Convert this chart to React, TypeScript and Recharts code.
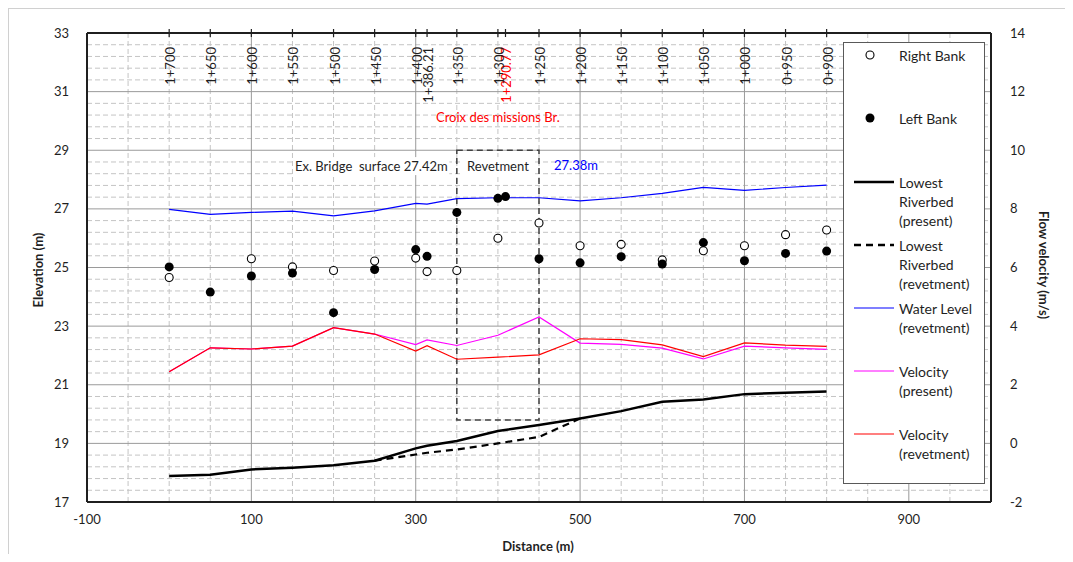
import React from 'react';
import {
  ComposedChart,
  Line,
  Scatter,
  XAxis,
  YAxis,
  CartesianGrid,
  ReferenceArea,
  ReferenceDot,
  Legend,
  Label,
} from 'recharts';

// distance along the river (m)
const distance = [0, 50, 100, 150, 200, 250, 300, 313.79, 350, 400, 409.23, 450, 500, 550, 600, 650, 700, 750, 800];

const rightBank = [24.66, null, 25.3, 25.02, 24.9, 25.22, 25.32, 24.86, 24.9, 26.0, null, 26.52, 25.74, 25.79, 25.26, 25.57, 25.74, 26.12, 26.28];
const leftBank = [25.02, 24.16, 24.71, 24.81, 23.46, 24.93, 25.61, 25.38, 26.88, 27.36, 27.42, 25.3, 25.16, 25.37, 25.12, 25.85, 25.23, 25.48, 25.56];
const bedPresent = [17.89, 17.93, 18.11, 18.17, 18.25, 18.41, 18.83, 18.92, 19.08, 19.42, null, 19.63, 19.85, 20.1, 20.42, 20.5, 20.68, 20.73, 20.77];
const bedRevetment = [null, null, null, null, null, 18.41, 18.62, 18.68, 18.79, 19.0, null, 19.22, 19.85, null, null, null, null, null, null];
const waterLevel = [26.98, 26.81, 26.88, 26.92, 26.76, 26.93, 27.19, 27.16, 27.35, 27.38, null, 27.38, 27.27, 27.38, 27.53, 27.73, 27.63, 27.73, 27.81];
const velPresent = [2.44, 3.26, 3.22, 3.32, 3.95, 3.73, 3.37, 3.53, 3.34, 3.69, null, 4.31, 3.42, 3.38, 3.25, 2.88, 3.32, 3.26, 3.21];
const velRevetment = [2.44, 3.26, 3.22, 3.32, 3.95, 3.73, 3.15, 3.33, 2.87, 2.94, null, 3.02, 3.57, 3.54, 3.36, 2.96, 3.43, 3.35, 3.31];

// station chainage labels on the top axis
const stationTicks = [0, 50, 100, 150, 200, 250, 300, 313.79, 350, 409.23, 400, 450, 500, 550, 600, 650, 700, 750, 800];
const stationLabels = ['1+700', '1+650', '1+600', '1+550', '1+500', '1+450', '1+400', '1+386.21', '1+350', '1+290.77', '1+300', '1+250', '1+200', '1+150', '1+100', '1+050', '1+000', '0+950', '0+900'];

const distanceTicks = [-100, 100, 300, 500, 700, 900];
const elevationTicks = [17, 19, 21, 23, 25, 27, 29, 31, 33];
const velocityTicks = [-2, 0, 2, 4, 6, 8, 10, 12, 14];

const toPoints = (ys: (number | null)[]) =>
  distance.map((x, i) => ({ x, y: ys[i] })).filter((p) => p.y !== null);

const minorX: number[] = [];
for (let v = -50; v < 1000; v += 50) if (!distanceTicks.includes(v)) minorX.push(v);
const minorY: number[] = [];
for (let k = 1; k < 40; k++) if (k % 5 !== 0) minorY.push(17 + k * 0.4);

const FONT = 'Lato, "Open Sans", sans-serif';
const INK = '#1f1f1f';
const PLOT_TOP = 24;
const tickStyle = { fontSize: 13, fill: INK, fontFamily: FONT };

function StationTick(props: any) {
  const { x, payload } = props;
  const i = stationTicks.indexOf(payload.value);
  const ty = PLOT_TOP + 14;
  return (
    <g>
      <line x1={x} x2={x} y1={PLOT_TOP - 4} y2={PLOT_TOP + 4} stroke={INK} strokeWidth={1.2} />
      <text
        x={x + 1}
        y={ty}
        transform={`rotate(-90 ${x + 1} ${ty})`}
        textAnchor="end"
        dominantBaseline="central"
        fontSize={13}
        fontFamily={FONT}
        fill={payload.value === 409.23 ? '#ff0000' : INK}
      >
        {stationLabels[i]}
      </text>
    </g>
  );
}

const openDot = (p: any) => <circle cx={p.cx} cy={p.cy} r={4} fill="#fff" stroke="#000" strokeWidth={1.1} />;
const fullDot = (p: any) => <circle cx={p.cx} cy={p.cy} r={4.5} fill="#000" />;

const note = (text: string, color: string, boxW?: number) => (p: any) => (
  <g>
    {boxW ? <rect x={p.cx - boxW / 2} y={p.cy - 9} width={boxW} height={18} fill="#fff" /> : null}
    <text
      x={p.cx}
      y={p.cy}
      textAnchor="middle"
      dominantBaseline="central"
      fontSize={13}
      fontFamily={FONT}
      fill={color}
      style={{ whiteSpace: 'pre' }}
    >
      {text}
    </text>
  </g>
);

const legendItems = [
  { kind: 'open', lines: ['Right Bank'], y: 12 },
  { kind: 'full', lines: ['Left Bank'], y: 75 },
  { kind: 'line', color: '#000', width: 2.5, dash: undefined, lines: ['Lowest', 'Riverbed', '(present)'], y: 139 },
  { kind: 'line', color: '#000', width: 2.5, dash: '7 5', lines: ['Lowest', 'Riverbed', '(revetment)'], y: 202 },
  { kind: 'line', color: '#0000ff', width: 1.2, dash: undefined, lines: ['Water Level', '(revetment)'], y: 265 },
  { kind: 'line', color: '#ff00ff', width: 1.2, dash: undefined, lines: ['Velocity', '(present)'], y: 328 },
  { kind: 'line', color: '#ff0000', width: 1.2, dash: undefined, lines: ['Velocity', '(revetment)'], y: 391 },
];

function LegendBox() {
  return (
    <div style={{ width: 142, height: 442, border: '1px solid #595959', background: '#fff', boxSizing: 'border-box' }}>
      <svg width={140} height={440}>
        {legendItems.map((it, i) => (
          <g key={i}>
            {it.kind === 'open' && <circle cx={26} cy={it.y} r={4} fill="#fff" stroke="#000" strokeWidth={1.1} />}
            {it.kind === 'full' && <circle cx={26} cy={it.y} r={4.5} fill="#000" />}
            {it.kind === 'line' && (
              <line x1={10} x2={50} y1={it.y} y2={it.y} stroke={it.color} strokeWidth={it.width} strokeDasharray={it.dash} />
            )}
            {it.lines.map((t, j) => (
              <text key={j} x={55} y={it.y + j * 19} dominantBaseline="central" fontSize={14} fontFamily={FONT} fill={INK}>
                {t}
              </text>
            ))}
          </g>
        ))}
      </svg>
    </div>
  );
}

const axisTitle = (text: string, x: number, y: number, angle: number) => () => (
  <text
    x={x}
    y={y}
    transform={angle ? `rotate(${angle} ${x} ${y})` : undefined}
    textAnchor="middle"
    dominantBaseline="central"
    fontSize={13}
    fontWeight="bold"
    fontFamily={FONT}
    fill={INK}
  >
    {text}
  </text>
);

export default function App() {
  return (
    <div
      style={{
        borderLeft: '1px solid #d0d0d0',
        borderTop: '1px solid #d0d0d0',
        width: 1057,
        height: 554,
        boxSizing: 'border-box',
        marginBottom: -8,
        overflow: 'hidden',
      }}
    >
      <ComposedChart width={1056} height={544} margin={{ top: 23, right: 30, bottom: 26, left: 28 }}>
        <CartesianGrid
          xAxisId="bottom"
          yAxisId="left"
          verticalValues={minorX}
          horizontalValues={minorY}
          stroke="#c4c4c4"
          strokeDasharray="5 3"
        />
        <CartesianGrid
          xAxisId="bottom"
          yAxisId="left"
          verticalValues={[100, 300, 500, 700, 900]}
          horizontalValues={[19, 21, 23, 25, 27, 29, 31]}
          stroke="#9a9a9a"
        />
        <XAxis
          xAxisId="bottom"
          dataKey="x"
          type="number"
          domain={[-100, 1000]}
          allowDataOverflow
          ticks={distanceTicks}
          interval={0}
          height={25}
          tick={tickStyle}
          tickLine={false}
          tickSize={6}
          tickMargin={7}
          axisLine={{ stroke: INK, strokeWidth: 2 }}
        >
          <Label content={axisTitle('Distance (m)', 529, 537, 0)} />
        </XAxis>
        <XAxis
          xAxisId="top"
          orientation="top"
          dataKey="x"
          type="number"
          domain={[-100, 1000]}
          allowDataOverflow
          ticks={stationTicks}
          interval={0}
          height={1}
          tick={<StationTick />}
          tickLine={false}
          axisLine={{ stroke: INK, strokeWidth: 2 }}
        />
        <YAxis
          yAxisId="left"
          type="number"
          domain={[17, 33]}
          allowDataOverflow
          ticks={elevationTicks}
          interval={0}
          width={50}
          tick={tickStyle}
          tickLine={false}
          tickSize={6}
          tickMargin={12}
          axisLine={{ stroke: INK, strokeWidth: 2 }}
        >
          <Label content={axisTitle('Elevation (m)', 29, 261, -90)} />
        </YAxis>
        <YAxis
          yAxisId="right"
          orientation="right"
          type="number"
          domain={[-2, 14]}
          allowDataOverflow
          ticks={velocityTicks}
          interval={0}
          width={44}
          tick={{ ...tickStyle, textAnchor: 'start' }}
          tickLine={false}
          tickSize={6}
          tickMargin={13}
          axisLine={{ stroke: INK, strokeWidth: 2 }}
        >
          <Label content={axisTitle('Flow velocity (m/s)', 1035, 256, 90)} />
        </YAxis>

        <ReferenceArea
          xAxisId="bottom"
          yAxisId="left"
          x1={350}
          x2={450}
          y1={19.8}
          y2={29}
          fill="none"
          fillOpacity={0}
          stroke="#404040"
          strokeWidth={1.5}
          strokeDasharray="6 4"
          ifOverflow="visible"
        />
        <ReferenceDot xAxisId="bottom" yAxisId="left" x={400} y={30.13} r={0} shape={note('Croix des missions Br.', '#ff0000')} />
        <ReferenceDot xAxisId="bottom" yAxisId="left" x={246} y={28.46} r={0} shape={note('Ex. Bridge  surface 27.42m', INK, 156)} />
        <ReferenceDot xAxisId="bottom" yAxisId="left" x={400} y={28.46} r={0} shape={note('Revetment', INK, 74)} />
        <ReferenceDot xAxisId="bottom" yAxisId="left" x={495} y={28.5} r={0} shape={note('27.38m', '#0000ff')} />

        <Line xAxisId="bottom" yAxisId="right" data={toPoints(velPresent)} dataKey="y" name="Velocity (present)" stroke="#ff00ff" strokeWidth={1.2} dot={false} isAnimationActive={false} />
        <Line xAxisId="bottom" yAxisId="right" data={toPoints(velRevetment)} dataKey="y" name="Velocity (revetment)" stroke="#ff0000" strokeWidth={1.2} dot={false} isAnimationActive={false} />
        <Line xAxisId="bottom" yAxisId="left" data={toPoints(waterLevel)} dataKey="y" name="Water Level (revetment)" stroke="#0000ff" strokeWidth={1.2} dot={false} isAnimationActive={false} />
        <Line xAxisId="bottom" yAxisId="left" data={toPoints(bedRevetment)} dataKey="y" name="Lowest Riverbed (revetment)" stroke="#000" strokeWidth={2.2} strokeDasharray="7 5" dot={false} isAnimationActive={false} />
        <Line xAxisId="bottom" yAxisId="left" data={toPoints(bedPresent)} dataKey="y" name="Lowest Riverbed (present)" stroke="#000" strokeWidth={2.5} dot={false} isAnimationActive={false} />
        <Scatter xAxisId="bottom" yAxisId="left" data={toPoints(rightBank)} dataKey="y" name="Right Bank" shape={openDot} isAnimationActive={false} />
        <Scatter xAxisId="bottom" yAxisId="left" data={toPoints(leftBank)} dataKey="y" name="Left Bank" shape={fullDot} isAnimationActive={false} />

        <Legend
          layout="vertical"
          align="center"
          verticalAlign="middle"
          content={<LegendBox />}
          wrapperStyle={{ position: 'absolute', left: 834, top: 33, width: 142, height: 442 }}
        />
      </ComposedChart>
    </div>
  );
}
